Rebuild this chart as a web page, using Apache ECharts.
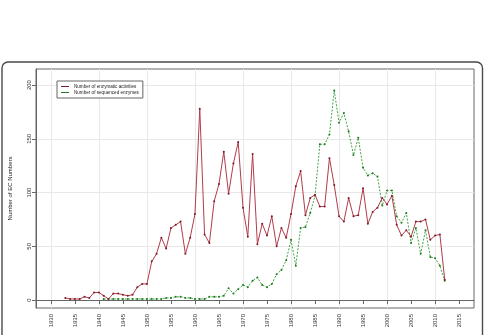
<!DOCTYPE html>
<html>
<head>
<meta charset="utf-8">
<script src="https://cdn.jsdelivr.net/npm/echarts@6/dist/echarts.min.js"></script>
<style>
html,body{margin:0;padding:0;background:#fff;}
#c{width:484px;height:335px;}
</style>
</head>
<body>
<div id="c"></div>
<script>
const years = [1933,1934,1935,1936,1937,1938,1939,1940,1941,1942,1943,1944,1945,1946,1947,1948,1949,1950,
  1951,1952,1953,1954,1955,1956,1957,1958,1959,1960,1961,1962,1963,1964,1965,1966,1967,1968,1969,1970,
  1971,1972,1973,1974,1975,1976,1977,1978,1979,1980,1981,1982,1983,1984,1985,1986,1987,1988,1989,1990,
  1991,1992,1993,1994,1995,1996,1997,1998,1999,2000,2001,2002,2003,2004,2005,2006,2007,2008,2009,2010,
  2011,2012];
const enzymaticActivities = [2,1,1,1,3,2,7,7,4,1,6,6,5,4,5,12,15,15,
  36,43,58,48,67,70,73,43,58,80,178,61,53,92,108,138,99,127,147,86,
  59,136,52,71,60,78,50,67,58,80,106,120,79,95,98,87,87,132,107,78,
  73,95,78,79,104,71,82,86,95,89,97,70,60,65,59,73,73,75,56,60,
  61,19];
const sequencedEnzymes = [null,null,null,null,null,null,null,null,1,1,1,1,1,1,1,1,1,1,
  1,1,1,2,2,3,3,2,2,1,1,1,3,3,3,4,11,6,10,14,
  12,18,21,14,12,15,24,28,37,56,32,67,68,81,97,145,145,154,195,165,
  174,157,135,151,123,116,118,115,88,102,102,78,72,81,53,67,43,65,40,39,
  32,18];
const xTicks = [1930,1935,1940,1945,1950,1955,1960,1965,1970,1975,1980,1985,1990,1995,2000,2005,2010,2015];
const xGridTicks = [1930,1940,1950,1960,1970,1980,1990,2000,2010];
const yTicks = [0,50,100,150,200];
const seriesNames = ['Number of enzymatic activities','Number of sequenced enzymes'];

const redPairs = years.map((y,i)=>[y, enzymaticActivities[i]]);
const greenPairs = years.map((y,i)=>[y, sequencedEnzymes[i]]);

const FONT = 'Liberation Sans, Arial, sans-serif';
const chart = echarts.init(document.getElementById('c'), null, {renderer:'canvas'});
chart.setOption({
  animation:false,
  backgroundColor:'#fff',
  textStyle:{fontFamily:FONT},
  graphic:[{
    type:'rect', silent:true, z:100,
    shape:{x:2, y:62, width:480.5, height:300, r:6},
    style:{fill:'none', stroke:'#4a4a4a', lineWidth:1.4}
  }],
  grid:{left:36, right:10, top:69, bottom:27, show:true, borderColor:'#666', borderWidth:1,
    backgroundColor:'transparent', containLabel:false, outerBoundsMode:'none'},
  legend:{
    left:57, top:81, orient:'vertical',
    padding:[3,4,3,4], itemGap:1,
    itemWidth:8, itemHeight:1, icon:'rect',
    borderColor:'#666', borderWidth:1, borderRadius:0,
    backgroundColor:'#fff',
    textStyle:{fontSize:4.6, color:'#222', fontFamily:FONT, lineHeight:5},
    data:seriesNames
  },
  xAxis:[{
    type:'value', min:1926.9, max:2018.1, gridIndex:0,
    name:'Year of publication', nameLocation:'middle', nameGap:26,
    nameTextStyle:{fontSize:6, color:'#222', fontFamily:FONT},
    axisLine:{show:true, lineStyle:{color:'#666', width:1}},
    axisTick:{show:true, length:4, customValues:xTicks, lineStyle:{color:'#666'}},
    axisLabel:{show:true, rotate:90, fontSize:6, color:'#333', margin:6, customValues:xTicks,
      fontFamily:FONT, formatter:(v)=>String(v)},
    splitLine:{show:false}
  },{
    type:'value', min:1926.9, max:2018.1, gridIndex:0, position:'top',
    axisLine:{show:false},
    axisTick:{show:false, customValues:xGridTicks},
    axisLabel:{show:false, customValues:xGridTicks},
    splitLine:{show:true, lineStyle:{color:'#e8e8e8', width:1}}
  }],
  yAxis:[{
    type:'value', min:-7.4, max:215,
    name:'Number of EC Numbers', nameLocation:'middle', nameGap:23, nameRotate:90,
    nameTextStyle:{fontSize:6, color:'#222', fontFamily:FONT},
    axisLine:{show:true, lineStyle:{color:'#666', width:1}},
    axisTick:{show:true, length:4, customValues:yTicks, lineStyle:{color:'#666'}},
    axisLabel:{show:true, rotate:90, fontSize:6, color:'#333', margin:4, customValues:yTicks,
      fontFamily:FONT, formatter:(v)=>String(v)},
    splitLine:{show:true, lineStyle:{color:'#e8e8e8', width:1}}
  }],
  series:[{
    name:seriesNames[0], type:'line', xAxisIndex:0, yAxisIndex:0,
    data:redPairs,
    symbol:'circle', symbolSize:2, showSymbol:true,
    lineStyle:{color:'#b23c4b', width:1},
    itemStyle:{color:'#7d1a2a'},
    color:'#b23c4b', z:3
  },{
    name:seriesNames[1], type:'line', xAxisIndex:0, yAxisIndex:0,
    data:greenPairs, connectNulls:false,
    symbol:'circle', symbolSize:2, showSymbol:true,
    lineStyle:{color:'#42a542', width:1, type:[2,1.5]},
    itemStyle:{color:'#1f7a1f'},
    color:'#42a542', z:2
  }]
});
</script>
</body>
</html>
